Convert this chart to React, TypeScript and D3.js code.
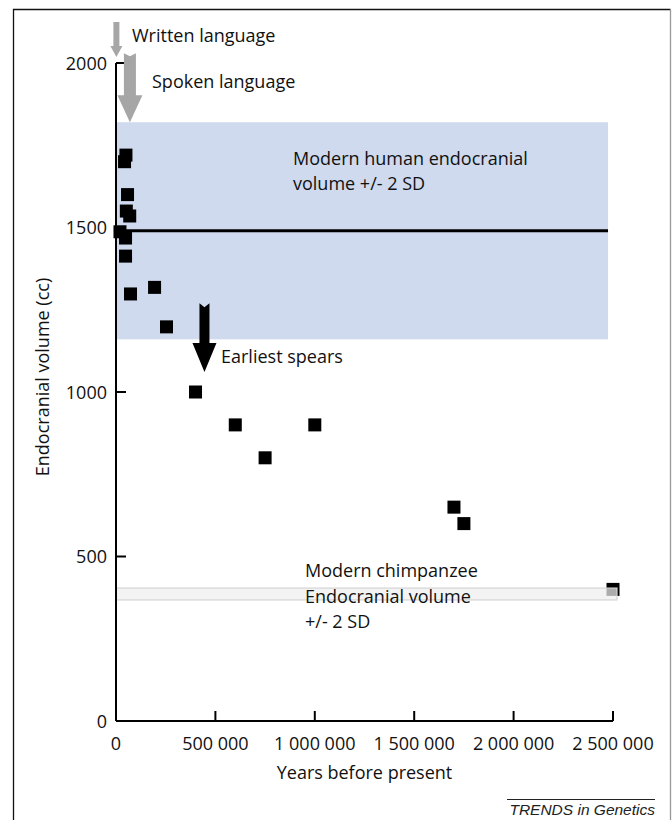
import React from "react";
import * as d3 from "d3";

// ---- data ----
const years = [50000, 43000, 58000, 52000, 69000, 20000, 48000, 48000, 73000, 194000, 254000, 400000, 600000, 750000, 1000000, 1700000, 1750000, 2500000];
const volumes = [1720, 1700, 1600, 1550, 1535, 1487, 1468, 1413, 1298, 1318, 1198, 1000, 900, 800, 900, 650, 600, 400];

const yTicks = [0, 500, 1000, 1500, 2000];
const xTicks = [0, 500000, 1000000, 1500000, 2000000, 2500000];
const xTickLabels = ["0", "500 000", "1 000 000", "1 500 000", "2 000 000", "2 500 000"];

const humanBand = [1160, 1820];
const humanMean = 1490;
const chimpBand = [368, 404];
const bandEndYear = [2475000, 2520000];

// arrows: [year, fromVolume, toVolume]
const arrowWritten = [2000, 2125, 2018];
const arrowSpoken = [70000, 2030, 1820];
const arrowSpears = [445000, 1270, 1061];

const FONT = "'Open Sans', 'Noto Sans', sans-serif";

export default function App() {
  const x = d3.scaleLinear().domain([0, 2500000]).range([116, 613]);
  const y = d3.scaleLinear().domain([0, 2000]).range([721, 63]);
  const sq = 13;

  const arrowPath = (a: number[], shaftW: number, headW: number, headL: number, notch: number) => {
    const cx = x(a[0]);
    const y0 = y(a[1]);
    const y1 = y(a[2]);
    const hb = y1 - headL;
    const p = d3.path();
    p.moveTo(cx - shaftW / 2, y0);
    p.lineTo(cx, y0 + notch);
    p.lineTo(cx + shaftW / 2, y0);
    p.lineTo(cx + shaftW / 2, hb);
    p.lineTo(cx + headW / 2, hb);
    p.lineTo(cx, y1);
    p.lineTo(cx - headW / 2, hb);
    p.lineTo(cx - shaftW / 2, hb);
    p.closePath();
    return p.toString();
  };

  return (
    <svg width={672} height={820} style={{ position: "absolute", left: 0, top: 0, display: "block", background: "#fff" }} fontFamily={FONT}>
      {/* frame */}
      <path d="M13.5,820 L13.5,9.5 L670.5,9.5" fill="none" stroke="#111" strokeWidth={1.3} />
      <line x1={670.5} y1={9.5} x2={670.5} y2={820} stroke="#999" strokeWidth={1.3} />

      {/* human band */}
      <rect x={x(0)} y={y(humanBand[1])} width={x(bandEndYear[0]) - x(0)} height={y(humanBand[0]) - y(humanBand[1])} fill="#cfdaee" />

      {/* points */}
      {years.map((yr, i) => (
        <rect key={i} x={x(yr) - sq / 2} y={y(volumes[i]) - sq / 2} width={sq} height={sq} fill="#000" />
      ))}

      {/* mean line */}
      <line x1={x(0)} x2={x(bandEndYear[0])} y1={y(humanMean)} y2={y(humanMean)} stroke="#000" strokeWidth={3} />

      {/* chimp band */}
      <rect x={x(0)} y={y(chimpBand[1])} width={x(bandEndYear[1]) - x(0)} height={y(chimpBand[0]) - y(chimpBand[1])} fill="rgb(239,239,239)" fillOpacity={0.72} stroke="#d4d4d4" strokeWidth={1.2} />

      {/* axes */}
      <line x1={x(0)} x2={x(0)} y1={y(2000)} y2={y(0)} stroke="#000" strokeWidth={2} />
      <line x1={x(0)} x2={x(2500000)} y1={y(0)} y2={y(0)} stroke="#000" strokeWidth={2} />
      {yTicks.filter((t) => t > 0).map((t) => (
        <line key={t} x1={x(0)} x2={x(0) + 10} y1={y(t)} y2={y(t)} stroke="#000" strokeWidth={2} />
      ))}
      {xTicks.filter((t) => t > 0).map((t) => (
        <line key={t} x1={x(t)} x2={x(t)} y1={y(0)} y2={y(0) - 10} stroke="#000" strokeWidth={2} />
      ))}
      {yTicks.map((t) => (
        <text key={t} x={107} y={y(t) + 6.5} textAnchor="end" fontSize={18} fill="#111">{t}</text>
      ))}
      {xTicks.map((t, i) => (
        <text key={t} x={x(t)} y={750} textAnchor="middle" fontSize={18} fill="#111">{xTickLabels[i]}</text>
      ))}
      <text x={(x(0) + x(2500000)) / 2} y={779} textAnchor="middle" fontSize={18} fill="#111">Years before present</text>
      <text transform={`translate(49,377) rotate(-90)`} textAnchor="middle" fontSize={18} fill="#111">Endocranial volume (cc)</text>

      {/* arrows */}
      <path d={arrowPath(arrowWritten, 6, 12, 11, 0)} fill="#a6a6a6" />
      <path d={arrowPath(arrowSpoken, 12, 25, 27, 3)} fill="#a6a6a6" />
      <path d={arrowPath(arrowSpears, 10, 24, 29, 4)} fill="#000" />

      {/* annotations */}
      <text x={132} y={42} fontSize={18} fill="#111">Written language</text>
      <text x={152} y={88} fontSize={18} fill="#111">Spoken language</text>
      <text x={293} y={165} fontSize={18} fill="#111">Modern human endocranial</text>
      <text x={293} y={190} fontSize={18} fill="#111">volume +/- 2 SD</text>
      <text x={221} y={363} fontSize={18} fill="#111">Earliest spears</text>
      <text x={305} y={577} fontSize={18} fill="#111">Modern chimpanzee</text>
      <text x={305} y={603} fontSize={18} fill="#111">Endocranial volume</text>
      <text x={305} y={628} fontSize={18} fill="#111">+/- 2 SD</text>

      {/* footer */}
      <line x1={507} x2={655} y1={799.5} y2={799.5} stroke="#222" strokeWidth={1} />
      <text x={655} y={815} textAnchor="end" fontSize={15.5} fontStyle="italic" fontFamily="'Liberation Sans', Arial, sans-serif" fill="#222">TRENDS in Genetics</text>
    </svg>
  );
}
